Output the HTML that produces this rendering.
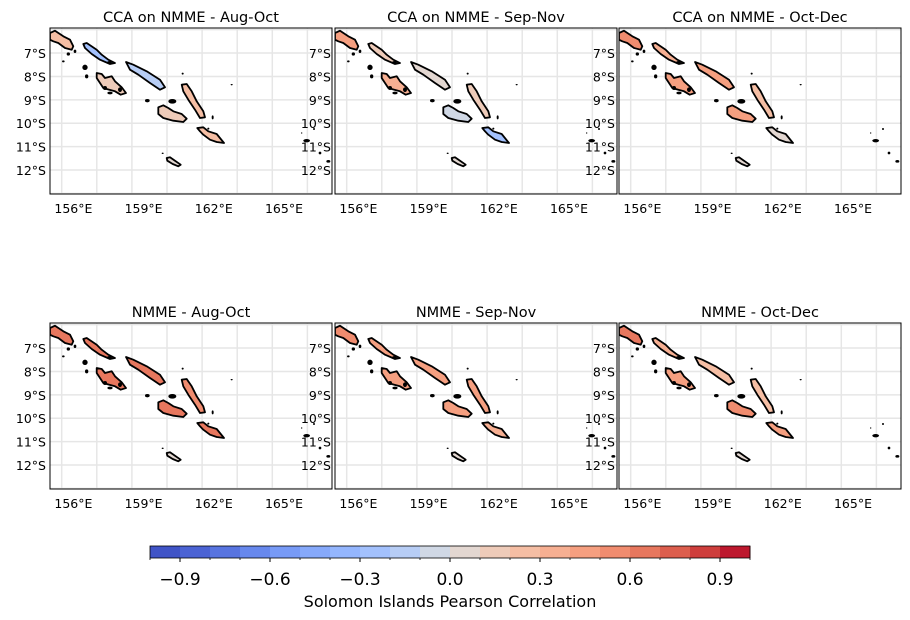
<!DOCTYPE html>
<html><head><meta charset="utf-8"><style>
body{margin:0;background:#fff;}
svg{display:block;font-family:"DejaVu Sans","Liberation Sans",sans-serif;}
</style></head><body>
<svg id="fig" width="910" height="620" viewBox="0 0 910 620"></svg>
<script>
// ---- data ----
const panelTitles = ["CCA on NMME - Aug-Oct","CCA on NMME - Sep-Nov","CCA on NMME - Oct-Dec","NMME - Aug-Oct","NMME - Sep-Nov","NMME - Oct-Dec"];
const islandNames = ["bougainville","choiseul","santa-isabel","new-georgia","malaita","guadalcanal","makira","rennell"];
const valsCcaAugOct = [0.25,-0.25,-0.2,0.15,0.25,0.1,0.2,0.0];
const valsCcaSepNov = [0.4,0.1,0.05,0.3,0.1,-0.1,-0.3,0.0];
const valsCcaOctDec = [0.5,0.35,0.45,0.4,0.25,0.45,0.0,0.0];
const valsNmmeAugOct = [0.65,0.6,0.6,0.6,0.55,0.65,0.6,0.0];
const valsNmmeSepNov = [0.55,0.45,0.45,0.45,0.4,0.4,0.35,0.0];
const valsNmmeOctDec = [0.6,0.3,0.25,0.45,0.2,0.5,0.45,0.0];
const lonTicks = [156,159,162,165];
const latTicks = [7,8,9,10,11,12];
const cbarTicks = [-0.9,-0.6,-0.3,0.0,0.3,0.6,0.9];
const cbarLevels = 20;

// ---- geography (basemap) ----
const g = (x,y)=>[155+x/70.2, 5.93+y/70.2];
const shapes = [
 [[0,15],[15,8],[40,25],[60,35],[70,55],[65,65],[45,60],[25,45],[10,40],[0,35]],
 [[100,48],[110,45],[140,65],[155,80],[175,95],[195,105],[180,108],[150,95],[125,78],[105,60]],
 [[228,102],[250,110],[290,130],[330,155],[345,178],[330,185],[300,165],[265,140],[240,125]],
 [[140,135],[155,138],[165,150],[185,145],[195,160],[215,178],[228,195],[212,200],[195,190],[178,185],[160,180],[150,165],[140,150]],
 [[395,170],[410,168],[425,190],[440,220],[460,250],[465,268],[450,270],[435,245],[415,215],[400,190]],
 [[325,238],[340,232],[355,240],[370,250],[395,258],[410,272],[400,282],[370,278],[340,270],[325,258]],
 [[442,300],[460,298],[475,310],[500,318],[522,345],[500,342],[480,335],[460,320],[450,310]],
 [[350,390],[360,388],[375,398],[392,410],[385,415],[368,408],[352,398]]
];
const smallIslands = [[105,118,8,8],[110,145,5,6],[165,180,6,6],[210,185,6,7],[180,195,8,4],[292,218,7,5],[367,220,12,7],[488,268,3,6],[398,137,3,3],[545,170,3,2],[338,376,3,2],[40,100,4,3],[55,78,5,5],[75,70,4,5],[180,102,8,3],[770,338,10,5],[792,303,3,3],[810,375,4,4],[835,400,6,4],[755,315,2,2],[475,302,3,3]];

function coolwarm(t){
 const a=[[0,59,76,192],[0.1,80,106,218],[0.2,111,146,243],[0.3,141,176,254],[0.4,170,199,253],[0.5,221,221,221],[0.6,244,197,173],[0.7,247,168,137],[0.8,237,131,102],[0.9,214,82,68],[1,180,4,38]];
 t=Math.max(0,Math.min(1,t));
 for(let i=0;i<a.length-1;i++){if(t<=a[i+1][0]){const f=(t-a[i][0])/(a[i+1][0]-a[i][0]);
  return `rgb(${[1,2,3].map(k=>Math.round(a[i][k]+f*(a[i+1][k]-a[i][k]))).join(',')})`;}}
}
function colorFor(v){const bin=Math.min(cbarLevels-1,Math.floor((v+1)/2*cbarLevels));return coolwarm((bin+0.5)/cbarLevels);}

const NS="http://www.w3.org/2000/svg";
const svg=document.getElementById('fig');
function el(tag,attrs,parent){const e=document.createElementNS(NS,tag);for(const k in attrs)e.setAttribute(k,attrs[k]);(parent||svg).appendChild(e);return e;}

const panelX=[50,335,619], panelY=[28,323], PW=282, PH=166, S=23.4;
const allVals=[valsCcaAugOct,valsCcaSepNov,valsCcaOctDec,valsNmmeAugOct,valsNmmeSepNov,valsNmmeOctDec];
const defs=el('defs',{});
for(let p=0;p<6;p++){
 const x0=panelX[p%3], y0=panelY[Math.floor(p/3)];
 const xs=lon=>x0+(lon-155)*S, ys=lat=>y0+(lat-5.93)*S;
 const cp=el('clipPath',{id:'c'+p},defs); el('rect',{x:x0,y:y0,width:PW,height:PH},cp);
 const grp=el('g',{});
 
 
 el('rect',{x:x0,y:y0,width:PW,height:PH,fill:'#fff'},grp);
 const inner=el('g',{'clip-path':'url(#c'+p+')'},grp);
 for(let lon=155.5;lon<168;lon+=1.5){el('line',{x1:xs(lon),x2:xs(lon),y1:y0,y2:y0+PH,stroke:'#e6e6e6','stroke-width':1.5},inner);}
 for(let lat=6;lat<13.5;lat+=1){el('line',{x1:x0,x2:x0+PW,y1:ys(lat),y2:ys(lat),stroke:'#e6e6e6','stroke-width':1.5},inner);}
 shapes.forEach((s,i)=>{
  const pts=s.map(q=>{const [lo,la]=g(q[0],q[1]);return xs(lo).toFixed(1)+','+ys(la).toFixed(1);}).join(' ');
  const poly=el('polygon',{points:pts,fill:colorFor(allVals[p][i]),stroke:'#000','stroke-width':1.8,'stroke-linejoin':'round'},inner);
  
  
 });
 smallIslands.forEach(s=>{const [lo,la]=g(s[0],s[1]);el('ellipse',{cx:xs(lo),cy:ys(la),rx:s[2]/3,ry:s[3]/3,fill:'#000'},inner);});
 el('rect',{x:x0,y:y0,width:PW,height:PH,fill:'none',stroke:'#000','stroke-width':1},grp);
 const t=el('text',{x:x0+PW/2,y:y0-6,'text-anchor':'middle','font-size':14.5},grp);t.textContent=panelTitles[p];
 
 lonTicks.forEach(lon=>{const tx=el('text',{x:xs(lon),y:y0+PH+19,'text-anchor':'middle','font-size':12.5},grp);tx.textContent=lon+'°E';
  });
 latTicks.forEach(lat=>{const ty=el('text',{x:x0-4,y:ys(lat)+5,'text-anchor':'end','font-size':12.5},grp);ty.textContent=lat+'°S';
  });
}
// colorbar
const cb=el('g',{});


const cx0=150,cw=600,cy0=546,ch=12,cx=v=>cx0+(v+1)/2*cw;
for(let i=0;i<cbarLevels;i++){const v0=-1+2*i/cbarLevels;
 el('rect',{x:cx(v0),y:cy0,width:cw/cbarLevels+0.5,height:ch,fill:coolwarm((i+0.5)/cbarLevels)},cb);}
el('rect',{x:cx0,y:cy0,width:cw,height:ch,fill:'none',stroke:'#000','stroke-width':0.8},cb);
for(let i=0;i<=cbarLevels;i++){const v=-1+2*i/cbarLevels;el('line',{x1:cx(v),x2:cx(v),y1:cy0+ch,y2:cy0+ch+2,stroke:'#000','stroke-width':0.8},cb);}
cbarTicks.forEach(v=>{el('line',{x1:cx(v),x2:cx(v),y1:cy0+ch,y2:cy0+ch+4,stroke:'#000'},cb);
 const t=el('text',{x:cx(v),y:585,'text-anchor':'middle','font-size':17},cb);t.textContent=(v<0?'\u2212':'')+Math.abs(v).toFixed(1);
 });
const lab=el('text',{x:450,y:607,'text-anchor':'middle','font-size':16},cb);lab.textContent='Solomon Islands Pearson Correlation';


</script>
</body></html>
